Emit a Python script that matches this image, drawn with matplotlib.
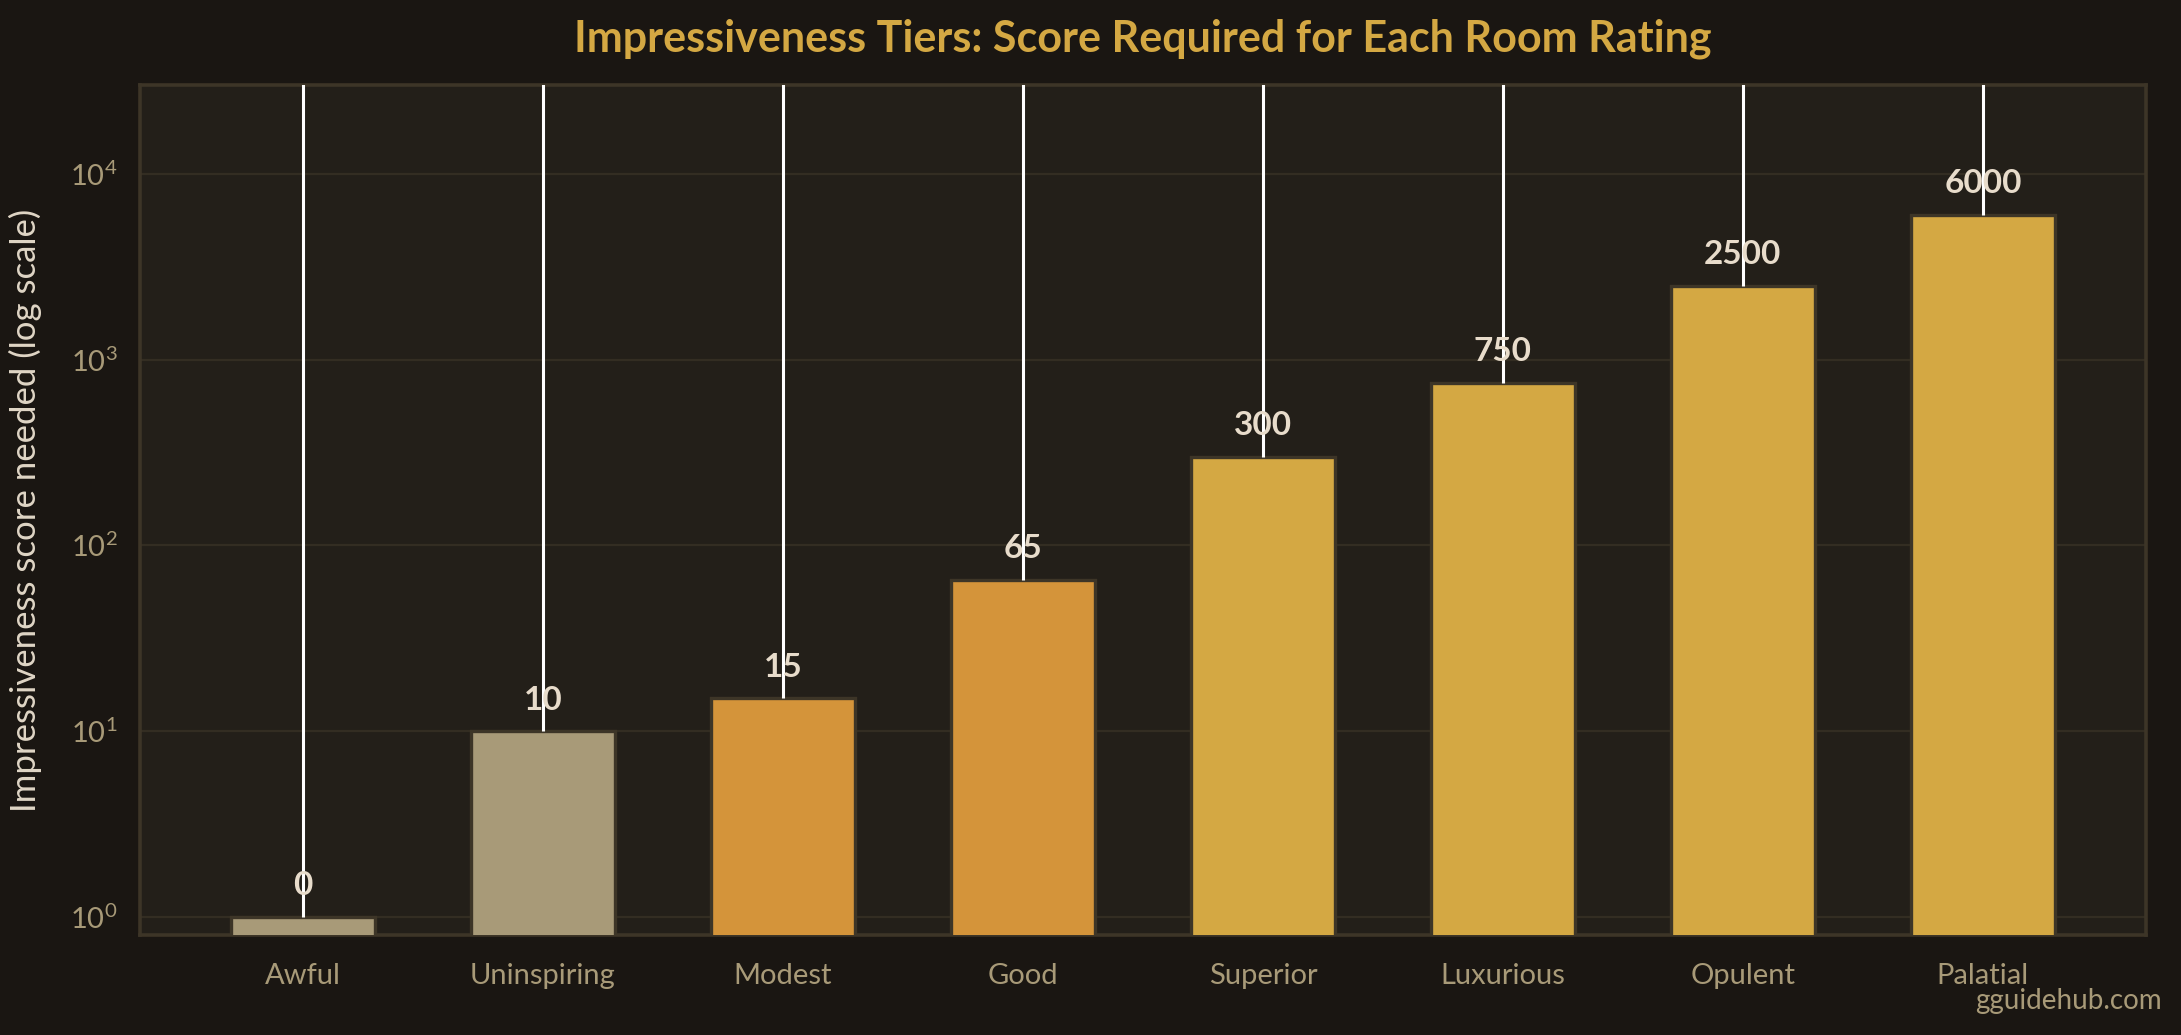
import numpy as np
import matplotlib
matplotlib.use("Agg")
from matplotlib import pyplot as plt

# data
tiers = ["Awful", "Uninspiring", "Modest", "Good", "Superior", "Luxurious", "Opulent", "Palatial"]
scores = [0, 10, 15, 65, 300, 750, 2500, 6000]
bar_colors = ["#a89a78", "#a89a78", "#d4943a", "#d4943a",
              "#d4a843", "#d4a843", "#d4a843", "#d4a843"]

plt.rcParams['font.family'] = ['Lato', 'DejaVu Sans']

fig = plt.figure(figsize=(10.905, 5.175), dpi=200, facecolor="#1a1612")
ax = fig.add_axes([0.064, 0.0966, 0.920, 0.8212])
ax.set_facecolor("#231f19")

x = np.arange(len(tiers))
heights = [max(s, 1) for s in scores]
ax.set_yscale("log")
ax.bar(x, heights, width=0.6, color=bar_colors, edgecolor="#3d3527",
       linewidth=1.2, zorder=3)
ax.set_ylim(0.8, 30000)

# white stems from each bar top upward
ax.vlines(x, heights, 1e6, color="white", linewidth=1.1, zorder=3.5)

for xi, h, s in zip(x, heights, scores):
    ax.annotate(str(s), (xi, h), xytext=(0, 6), textcoords="offset points",
                ha="center", va="bottom", fontsize=12, fontweight="bold",
                color="#e8dccb", zorder=5)

ax.set_xticks(x)
ax.set_xticklabels(tiers)
ax.tick_params(axis="both", length=0, labelsize=10.5, colors="#a89a78", pad=8)
ax.tick_params(axis="x", pad=10)
ax.minorticks_off()
ax.grid(axis="y", which="major", color="#332d22", linewidth=0.8, zorder=0)
ax.set_axisbelow(True)
for sp in ax.spines.values():
    sp.set_color("#3d3527")
    sp.set_linewidth(1.3)

ax.set_ylabel("Impressiveness score needed (log scale)", fontsize=12.5,
              color="#e0d6c6", labelpad=10)
ax.set_title("Impressiveness Tiers: Score Required for Each Room Rating",
             fontsize=15.5, fontweight="bold", color="#d4a843", pad=12)
fig.text(0.991, 0.033, "gguidehub.com", ha="right", va="center",
         fontsize=10, color="#a89a78")

fig.savefig("out.png", dpi=200, facecolor=fig.get_facecolor())
